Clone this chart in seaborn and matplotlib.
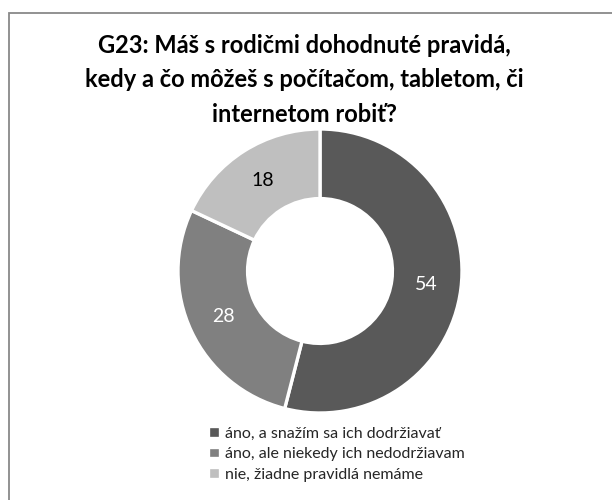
import matplotlib
matplotlib.use("Agg")
import matplotlib.pyplot as plt
from matplotlib.patches import Rectangle
import seaborn as sns

title = "G23: Máš s rodičmi dohodnuté pravidá,\nkedy a čo môžeš s počítačom, tabletom, či\ninternetom robiť?"
categories = ["áno, a snažím sa ich dodržiavať",
              "áno, ale niekedy ich nedodržiavam",
              "nie, žiadne pravidlá nemáme"]
values = [54, 28, 18]
colors = ["#595959", "#808080", "#bfbfbf"]
label_colors = ["white", "white", "black"]

sns.set_theme(style="white")
plt.rcParams["font.family"] = ["Lato", "DejaVu Sans"]

W, H = 612, 500
fig = plt.figure(figsize=(W / 100, H / 100), dpi=100)
fig.patch.set_facecolor("white")

# border
fig.patches.append(Rectangle((9 / W, -0.2), 1.5, 1 - 13 / H + 0.2, transform=fig.transFigure,
                             fill=False, edgecolor="#898989", linewidth=1.3))

cx, cy, R = 320, 271, 142
ax = fig.add_axes([(cx - R) / W, (H - cy - R) / H, 2 * R / W, 2 * R / H])
palette = sns.color_palette(colors)
wedges, texts, autotexts = ax.pie(values, colors=palette, startangle=90, counterclock=False,
                                  radius=1, autopct=lambda p: f"{p:.0f}", pctdistance=0.755,
                                  wedgeprops=dict(width=0.49, edgecolor="white", linewidth=2.4),
                                  textprops=dict(fontsize=14))
for t, c in zip(autotexts, label_colors):
    t.set_color(c)
ax.set_xlim(-1, 1)
ax.set_ylim(-1, 1)
ax.set_aspect("equal")
ax.axis("off")

fig.text(304 / W, 1 - 34 / H, title, ha="center", va="top", fontsize=17, fontweight="bold",
         linespacing=1.6, color="black")

fig.legend(wedges, categories, loc="center", bbox_to_anchor=(336 / W, 1 - 454 / H),
           frameon=False, fontsize=11.5, handlelength=0.75, handleheight=0.75,
           handletextpad=0.3, labelspacing=0.38, borderpad=0)

fig.savefig("out.png", dpi=100)
